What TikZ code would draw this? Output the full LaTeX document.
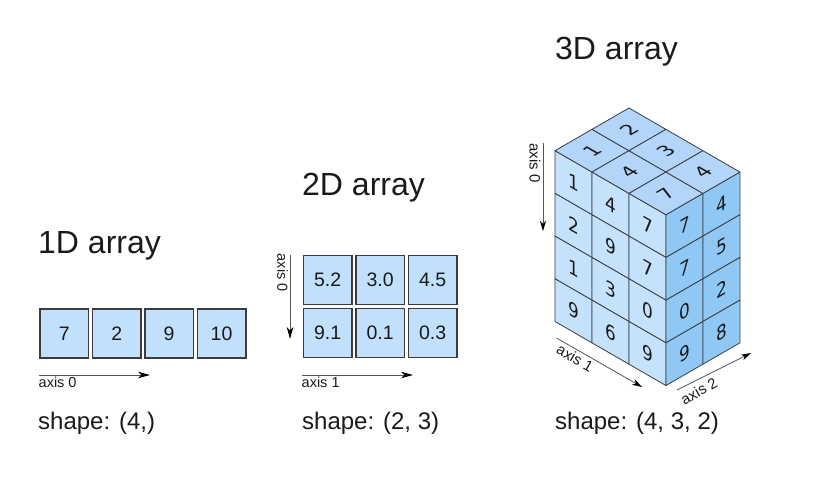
\documentclass[tikz,border=0pt]{standalone}
\usepackage{fontspec}
\setmainfont{Liberation Sans}
\newfontfamily\dejavu{DejaVu Sans}
\usetikzlibrary{arrows.meta}
\definecolor{boxfill}{HTML}{C0E0FC}
\definecolor{boxedge}{HTML}{3C3C3C}
\definecolor{txt}{HTML}{1A1A1A}
\definecolor{arrowgray}{HTML}{555555}
\definecolor{leftface}{HTML}{C4E2FB}
\definecolor{topface}{HTML}{B3D5F9}
\definecolor{rightface}{HTML}{8FC8F4}
\definecolor{cubeedge}{HTML}{3A3D46}
\begin{document}
\begin{tikzpicture}[x=1pt,y=-1pt,
  title/.style={anchor=base west, font=\fontsize{32}{38}\selectfont, inner sep=0pt, text=txt},
  shapelbl/.style={anchor=base west, font=\fontsize{24}{28}\selectfont, inner sep=0pt, text=txt},
  cell/.style={draw=boxedge, fill=boxfill, line width=1.5pt, minimum width=48.5pt, minimum height=49pt, inner sep=0pt, font=\fontsize{19.5}{22}\selectfont, text=txt},
  axislbl/.style={font=\fontsize{14.5}{16}\selectfont, inner sep=0pt, text=txt},
  axislblsm/.style={font=\fontsize{15}{17}\selectfont, inner sep=0pt, text=txt},
  axisarrow/.style={draw=arrowgray, line width=0.9pt, -{Stealth[length=12pt,width=6.5pt,inset=3.5pt,color=black]}},
  axisarrowsm/.style={draw=arrowgray, line width=0.8pt, -{Stealth[length=10pt,width=6pt,inset=3pt,color=black]}},
  cubecell/.style={draw=cubeedge, line width=0.8pt, line join=round},
  cubenum/.style={font=\dejavu\fontsize{19.5}{22}\selectfont, inner sep=0pt, text=txt, transform shape}
]
\useasboundingbox (0,0) rectangle (827,478);

% ---------- 1D ----------
\node[title] (t1) at (38,254) {1D array};
\node[cell] (c1a) at (64.3,333.6) {7};
\node[cell] (c1b) at (116.7,333.6) {2};
\node[cell] (c1c) at (169.1,333.6) {9};
\node[cell] (c1d) at (221.5,333.6) {10};
\coordinate (ax1s) at (39,375);
\coordinate (ax1e) at (150,375);
\draw[axisarrow] (ax1s) -- (ax1e);
\node[axislbl, anchor=west] (ax1l) at (38.5,382) {axis 0};
\node[shapelbl] (s1) at (38,429) {shape: (4,)};

% ---------- 2D ----------
\node[title] (t2) at (302,196) {2D array};
\node[cell] (c2a) at (327.7,280.2) {5.2};
\node[cell] (c2b) at (380.2,280.2) {3.0};
\node[cell] (c2c) at (432.7,280.2) {4.5};
\node[cell] (c2d) at (327.7,333) {9.1};
\node[cell] (c2e) at (380.2,333) {0.1};
\node[cell] (c2f) at (432.7,333) {0.3};
\coordinate (bx0s) at (290,255);
\coordinate (bx0e) at (290,339);
\draw[axisarrow] (bx0s) -- (bx0e);
\node[axislbl, anchor=west, rotate=-90] (bx0l) at (282.5,253.5) {axis 0};
\coordinate (bx1s) at (302,375);
\coordinate (bx1e) at (413,375);
\draw[axisarrow] (bx1s) -- (bx1e);
\node[axislbl, anchor=west] (bx1l) at (301.5,382) {axis 1};
\node[shapelbl] (s2) at (302,429) {shape: (2, 3)};

% ---------- 3D ----------
\node[title] (t3) at (555,59.5) {3D array};
\begin{scope}[shift={(555,150.7)}, x={(36.98pt,-21.35pt)}, y={(36.98pt,21.35pt)}, z={(0pt,-42.7pt)}]
  % left face (axis 2 = 0)
  \foreach \i/\k/\v in {0/0/1,0/1/2,0/2/1,0/3/9, 1/0/4,1/1/9,1/2/3,1/3/6, 2/0/7,2/1/7,2/2/0,2/3/9}{
    \filldraw[cubecell, fill=leftface] (\i,0,\k) -- (\i+1,0,\k) -- (\i+1,0,\k+1) -- (\i,0,\k+1) -- cycle;
    \begin{scope}[shift={(\i+0.5,0,\k+0.5)}, cm={0.866,-0.5,0,1,(0,0)}]
      \node[cubenum] (L\i\k) at (0,0,0) {\v};
    \end{scope}
  }
  % right face (axis 1 = 3)
  \foreach \j/\k/\v in {0/0/7,0/1/7,0/2/0,0/3/9, 1/0/4,1/1/5,1/2/2,1/3/8}{
    \filldraw[cubecell, fill=rightface] (3,\j,\k) -- (3,\j+1,\k) -- (3,\j+1,\k+1) -- (3,\j,\k+1) -- cycle;
    \begin{scope}[shift={(3,\j+0.5,\k+0.5)}, cm={0.866,0.5,0,1,(0,0)}]
      \node[cubenum] (R\j\k) at (0,0,0) {\v};
    \end{scope}
  }
  % top face (axis 0 = 0)
  \foreach \i/\j/\v in {0/0/1,0/1/2, 1/0/4,1/1/3, 2/0/7,2/1/4}{
    \filldraw[cubecell, fill=topface] (\i,\j,0) -- (\i+1,\j,0) -- (\i+1,\j+1,0) -- (\i,\j+1,0) -- cycle;
    \begin{scope}[shift={(\i+0.5,\j+0.5,0)}, cm={0.866,0.5,-0.866,0.5,(0,0)}]
      \node[cubenum] (T\i\j) at (0,0,0) {\v};
    \end{scope}
  }
\end{scope}
\coordinate (cx0s) at (543,143);
\coordinate (cx0e) at (543,231);
\draw[axisarrowsm] (cx0s) -- (cx0e);
\node[axislblsm, anchor=west, rotate=-90] (cx0l) at (535,143) {axis 0};
\coordinate (cx1s) at (556.5,338);
\coordinate (cx1e) at (642,387);
\draw[axisarrowsm] (cx1s) -- (cx1e);
\node[axislblsm, rotate=-30] (cx1l) at (575,358) {axis 1};
\coordinate (cx2s) at (677,390);
\coordinate (cx2e) at (751,353);
\draw[axisarrowsm] (cx2s) -- (cx2e);
\node[axislblsm, rotate=30] (cx2l) at (699,391) {axis 2};
\node[shapelbl] (s3) at (555,429) {shape: (4, 3, 2)};
\end{tikzpicture}
\end{document}
